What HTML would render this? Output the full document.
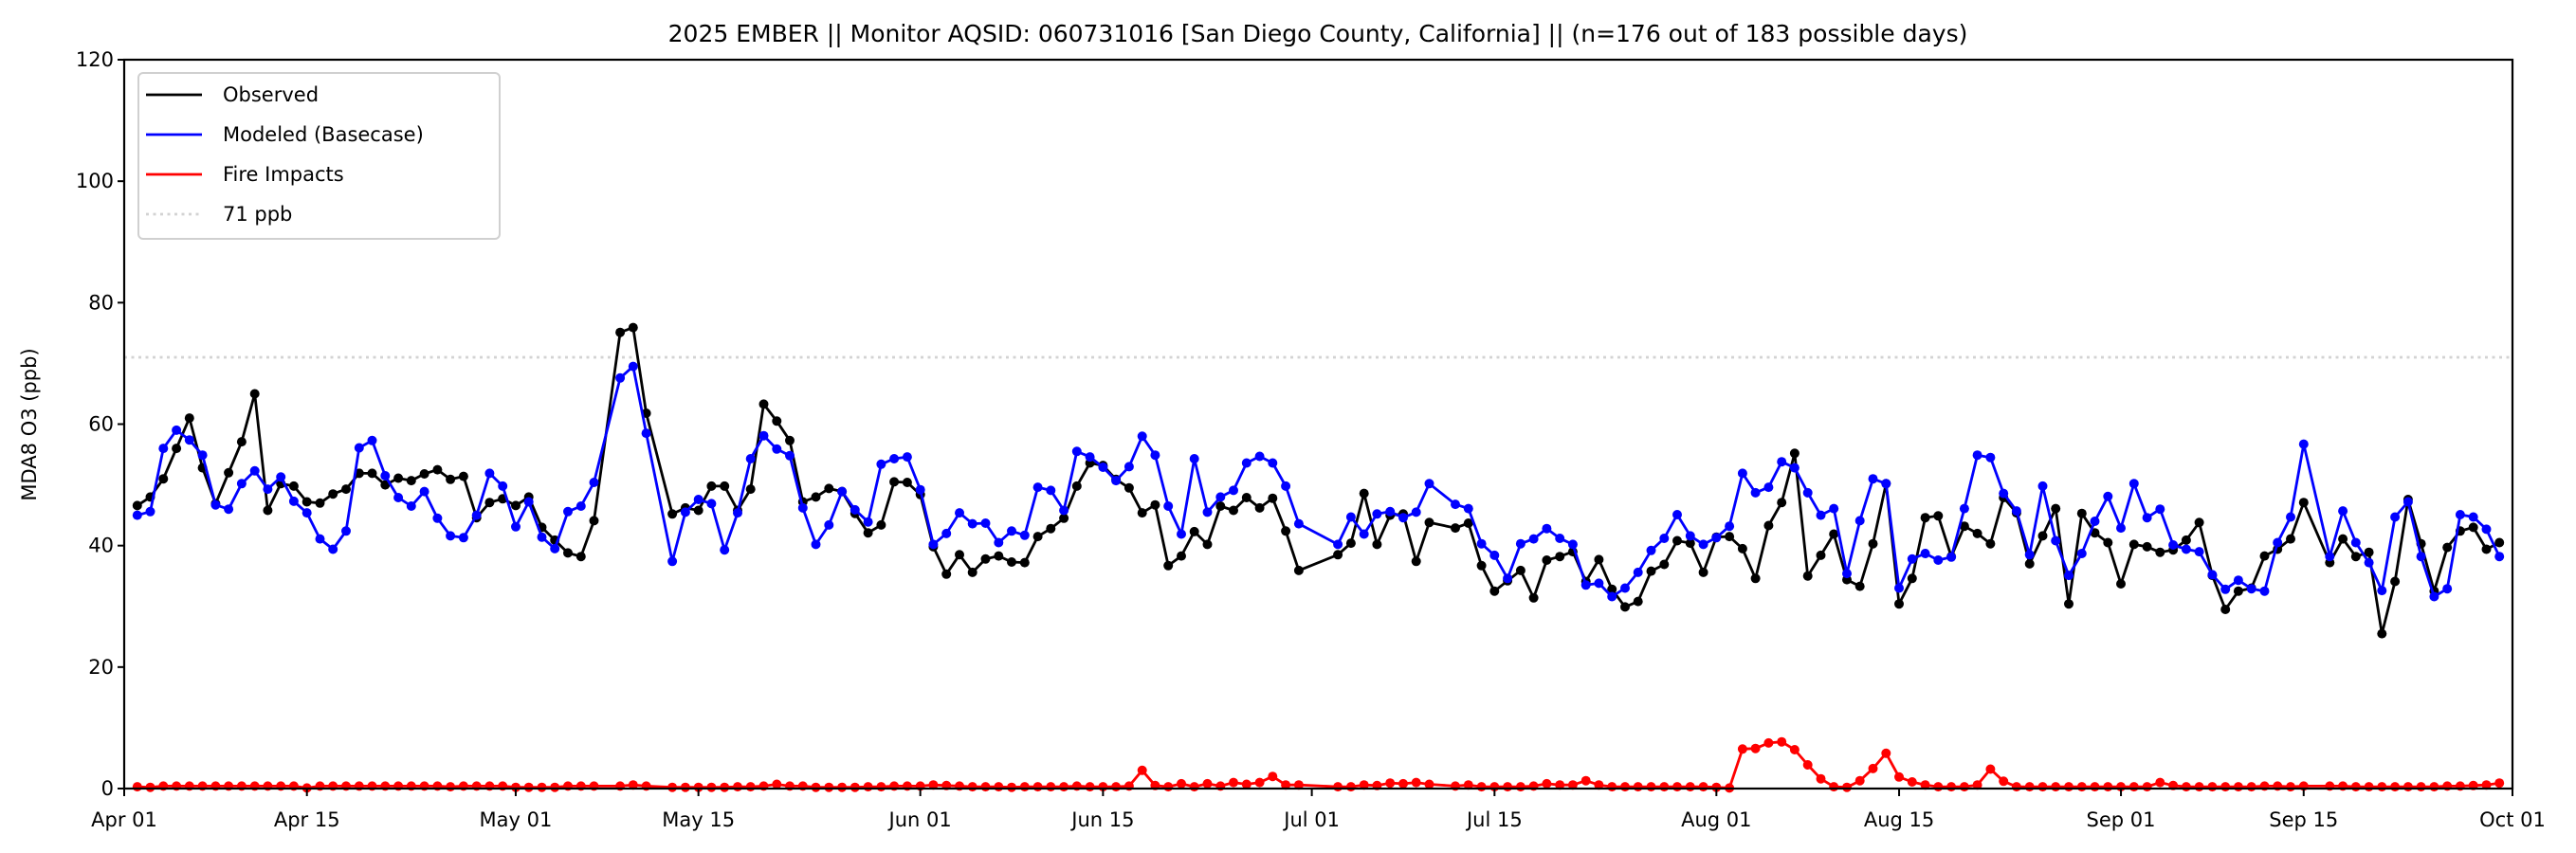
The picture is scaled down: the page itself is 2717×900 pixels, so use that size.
<!DOCTYPE html>
<html><head><meta charset="utf-8"><style>
html,body{margin:0;padding:0;background:#fff;}
svg{display:block;font-family:"DejaVu Sans","Liberation Sans",sans-serif;}
</style></head><body>
<svg id="chart" width="2717" height="900" viewBox="0 0 2717 900" xmlns="http://www.w3.org/2000/svg">
<text x="1390" y="44" font-size="25" text-anchor="middle">2025 EMBER || Monitor AQSID: 060731016 [San Diego County, California] || (n=176 out of 183 possible days)</text>
<text transform="translate(38,448) rotate(-90)" font-size="21" text-anchor="middle">MDA8 O3 (ppb)</text>
<g id="grid"></g><g id="series"></g>
<rect x="131" y="63" width="2519" height="769" fill="none" stroke="#000" stroke-width="2.2"/>
<g id="axes"></g>
<g>
<rect x="146" y="77" width="381" height="175" rx="5" fill="#fff" fill-opacity="0.85" stroke="#d0d0d0" stroke-width="2"/>
<line x1="154" y1="100" x2="213" y2="100" stroke="#000" stroke-width="2.8"/>
<text x="235" y="107" font-size="21">Observed</text>
<line x1="154" y1="142" x2="213" y2="142" stroke="#0000ff" stroke-width="2.8"/>
<text x="235" y="149" font-size="21">Modeled (Basecase)</text>
<line x1="154" y1="184" x2="213" y2="184" stroke="#ff0000" stroke-width="2.8"/>
<text x="235" y="191" font-size="21">Fire Impacts</text>
<line x1="154" y1="226" x2="213" y2="226" stroke="#d3d3d3" stroke-width="2.8" stroke-dasharray="3,4.5"/>
<text x="235" y="233" font-size="21">71 ppb</text>
</g>
</svg>
<script>
const N = null;
const observed = [N,
46.6,48.0,51.0,56.0,61.0,52.8,46.9,52.0,57.1,65.0,
45.8,50.2,49.8,47.2,47.0,48.5,49.3,51.9,51.9,50.0,
51.1,50.7,51.8,52.5,50.9,51.4,44.6,47.1,47.7,46.6,
48.0,43.0,40.9,38.8,38.2,44.1,N,75.1,75.9,61.8,
N,45.2,46.2,45.8,49.8,49.8,45.8,49.3,63.3,60.5,
57.3,47.2,48.0,49.4,48.9,45.3,42.1,43.4,50.5,50.4,
48.4,39.8,35.3,38.5,35.6,37.8,38.3,37.3,37.2,41.5,
42.8,44.5,49.8,53.6,53.2,50.9,49.5,45.4,46.7,36.7,
38.3,42.3,40.2,46.5,45.8,47.9,46.2,47.8,42.4,35.9,
N,N,38.5,40.4,48.6,40.2,45.0,45.2,37.4,43.8,
N,42.9,43.7,36.7,32.5,34.2,35.9,31.4,37.6,38.2,
39.0,34.1,37.7,32.8,29.9,30.8,35.8,36.9,40.8,40.4,
35.6,41.4,41.5,39.5,34.6,43.3,47.1,55.2,35.0,38.4,
41.9,34.4,33.3,40.3,50.2,30.4,34.6,44.6,44.9,38.2,
43.2,42.0,40.3,47.9,45.4,37.0,41.6,46.1,30.4,45.3,
42.1,40.5,33.7,40.2,39.8,38.9,39.3,40.9,43.8,35.1,
29.5,32.5,33.0,38.3,39.4,41.1,47.1,N,37.2,41.1,
38.2,38.9,25.5,34.1,47.6,40.3,32.5,39.7,42.4,43.0,
39.4,40.5];
const modeled = [N,
45.0,45.6,56.0,59.0,57.4,54.9,46.7,46.0,50.2,52.3,
49.3,51.3,47.3,45.4,41.1,39.4,42.4,56.1,57.3,51.5,
47.9,46.5,48.9,44.5,41.6,41.3,45.0,51.9,49.8,43.1,
47.2,41.4,39.5,45.6,46.5,50.4,N,67.6,69.5,58.5,
N,37.4,45.5,47.6,46.9,39.3,45.4,54.3,58.1,55.9,
54.8,46.2,40.2,43.4,48.9,45.9,43.9,53.4,54.3,54.6,
49.2,40.2,42.0,45.4,43.6,43.7,40.5,42.4,41.7,49.6,
49.1,45.8,55.5,54.6,52.9,50.7,53.0,58.0,54.9,46.5,
41.9,54.3,45.5,48.0,49.1,53.6,54.7,53.6,49.8,43.6,
N,N,40.2,44.7,41.9,45.2,45.6,44.6,45.5,50.2,
N,46.8,46.1,40.3,38.4,34.6,40.3,41.1,42.8,41.2,
40.2,33.5,33.8,31.6,33.0,35.6,39.2,41.2,45.1,41.6,
40.2,41.3,43.2,51.9,48.7,49.6,53.8,52.8,48.7,45.0,
46.1,35.4,44.1,51.0,50.2,33.0,37.8,38.7,37.6,38.1,
46.1,54.9,54.5,48.6,45.7,38.5,49.8,40.8,35.1,38.7,
44.0,48.1,42.9,50.2,44.6,46.0,40.1,39.4,39.0,35.2,
32.8,34.3,32.9,32.5,40.5,44.7,56.7,N,38.2,45.7,
40.5,37.2,32.6,44.7,47.2,38.2,31.6,32.9,45.1,44.7,
42.7,38.2];
const fire = [N,
0.3,0.2,0.4,0.4,0.4,0.4,0.4,0.4,0.4,0.4,
0.4,0.4,0.4,0.1,0.4,0.4,0.4,0.4,0.4,0.4,
0.4,0.4,0.4,0.4,0.3,0.4,0.4,0.4,0.4,0.2,
0.2,0.2,0.2,0.4,0.4,0.4,N,0.4,0.6,0.4,
N,0.2,0.2,0.2,0.2,0.2,0.3,0.3,0.4,0.7,
0.4,0.4,0.2,0.2,0.2,0.2,0.3,0.3,0.4,0.4,
0.4,0.6,0.5,0.4,0.3,0.3,0.3,0.2,0.3,0.3,
0.3,0.3,0.4,0.3,0.3,0.3,0.4,3.0,0.5,0.3,
0.8,0.3,0.8,0.4,1.0,0.7,1.0,2.0,0.6,0.6,
N,N,0.3,0.3,0.6,0.5,0.9,0.8,1.0,0.7,
N,0.4,0.6,0.3,0.3,0.3,0.3,0.4,0.8,0.6,
0.6,1.3,0.6,0.3,0.3,0.3,0.3,0.3,0.3,0.3,
0.3,0.2,0.1,6.5,6.6,7.5,7.7,6.4,3.9,1.6,
0.3,0.2,1.3,3.3,5.8,1.9,1.1,0.6,0.3,0.3,
0.3,0.6,3.2,1.2,0.3,0.3,0.3,0.3,0.3,0.3,
0.3,0.3,0.3,0.3,0.3,1.0,0.5,0.3,0.3,0.3,
0.3,0.3,0.3,0.4,0.4,0.3,0.4,N,0.4,0.4,
0.3,0.3,0.3,0.3,0.3,0.3,0.3,0.4,0.4,0.5,
0.6,0.9];
const yTicks = [0,20,40,60,80,100,120];
const xTickDays = [0,14,30,44,61,75,91,105,122,136,153,167,183];
const xTickLabels = ["Apr 01","Apr 15","May 01","May 15","Jun 01","Jun 15","Jul 01","Jul 15","Aug 01","Aug 15","Sep 01","Sep 15","Oct 01"];
const threshold = 71;

const X0=131, X1=2650, Y0=832, Y1=63, DAYS=183, YMAX=120;
const xs = d => X0 + (X1-X0)*d/DAYS;
const ys = v => Y0 - (Y0-Y1)*v/YMAX;
const NS="http://www.w3.org/2000/svg";
function mk(tag, attrs, parent){const e=document.createElementNS(NS,tag);for(const k in attrs)e.setAttribute(k,attrs[k]);parent.appendChild(e);return e;}
const grid=document.getElementById('grid'), series=document.getElementById('series'), axes=document.getElementById('axes');

const th=mk('line',{x1:X0,x2:X1,y1:ys(threshold),y2:ys(threshold),stroke:'#d3d3d3','stroke-width':2.8,'stroke-dasharray':'3,4.5'},grid);



function drawSeries(arr, color, name){
  const g=mk('g',{},series);
  
  
  let pts=[];
  arr.forEach((v,d)=>{ if(v!==null) pts.push(xs(d).toFixed(1)+','+ys(v).toFixed(1)); });
  const pl=mk('polyline',{points:pts.join(' '),fill:'none',stroke:color,'stroke-width':2.8,'stroke-linejoin':'round'},g);
  
  
  arr.forEach((v,d)=>{ if(v===null) return;
    const c=mk('circle',{cx:xs(d).toFixed(1),cy:ys(v).toFixed(1),r:5,fill:color},g);
    
    
  });
}
drawSeries(observed,'#000000','observed');
drawSeries(modeled,'#0000ff','modeled');
drawSeries(fire,'#ff0000','fire');

yTicks.forEach(v=>{
  const t=mk('line',{x1:X0-7,x2:X0,y1:ys(v),y2:ys(v),stroke:'#000','stroke-width':2},axes);
  
  
  const l=mk('text',{x:X0-11,y:ys(v)+7,'font-size':21,'text-anchor':'end'},axes);
  
  
  l.textContent=v;
});
xTickDays.forEach((d,i)=>{
  const t=mk('line',{x1:xs(d),x2:xs(d),y1:Y0,y2:Y0+8,stroke:'#000','stroke-width':2},axes);
  
  
  const l=mk('text',{x:xs(d),y:Y0+40,'font-size':21,'text-anchor':'middle'},axes);
  
  
  l.textContent=xTickLabels[i];
});
</script>
</body></html>
